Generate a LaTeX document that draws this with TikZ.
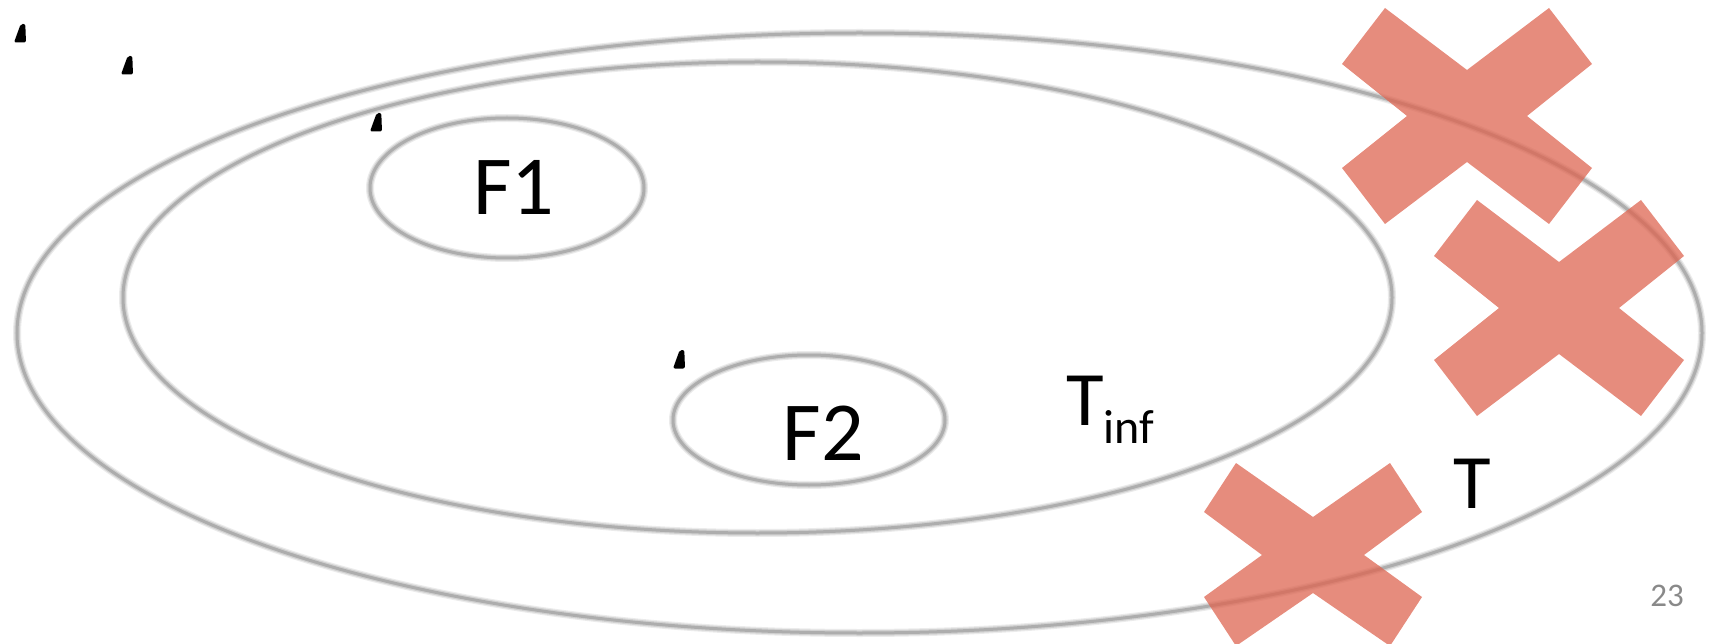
\documentclass[tikz,border=0pt]{standalone}
\usepackage{fontspec}
\setmainfont{Carlito}
\definecolor{crossred}{RGB}{222,102,82}
\definecolor{pagegray}{RGB}{137,137,137}
\tikzset{
  x=1pt, y=-1pt,
  ringhaloA/.style={draw=black!8, line width=8pt},
  ringhaloB/.style={draw=black!18, line width=5.5pt},
  ringcore/.style={draw=black!32, line width=3pt},
  crossfill/.style={fill=crossred, fill opacity=0.75},
  tickmark/.style={fill=black, rounded corners=2pt},
  lbl/.style={inner sep=0pt, outer sep=0pt, text=black},
  xmark/.pic={
    \fill[crossfill] (0,-46) -- (82,-108) -- (125,-52) -- (60,0) -- (125,52) -- (82,108)
      -- (0,46) -- (-82,108) -- (-125,52) -- (-60,0) -- (-125,-52) -- (-82,-108) -- cycle;
  },
  xmarksmall/.pic={
    \fill[crossfill] (0,-38) -- (77,-92) -- (109,-43) -- (51,0) -- (109,42) -- (77,91)
      -- (0,38) -- (-77,91) -- (-109,42) -- (-51,0) -- (-109,-43) -- (-77,-92) -- cycle;
  },
  tick/.pic={
    \fill[tickmark] (-6,9.5) -- (6,9.5) -- (5.3,-9) -- (0.7,-9) -- cycle;
  }
}
\begin{document}
\begin{tikzpicture}
\useasboundingbox (0,0) rectangle (1719,644);
% rings (soft grey)
\foreach \st in {ringhaloA,ringhaloB,ringcore}{
  \draw[\st] (859.5,333) ellipse [x radius=842.5, y radius=300];
  \draw[\st] (757.5,297.5) ellipse [x radius=634.5, y radius=235.5];
  \draw[\st] (507,188) ellipse [x radius=137, y radius=70];
  \draw[\st] (809,420) ellipse [x radius=136, y radius=65];
}
% crosses
\pic (x1) at (1467,116) {xmark};
\pic (x2) at (1559,308) {xmark};
\pic (x3) at (1313,555) {xmarksmall};
% small black marks
\pic (m1) at (20,33) {tick};
\pic (m2) at (127,65) {tick};
\pic (m3) at (376,122) {tick};
\pic (m4) at (679,359) {tick};
% labels
\node[lbl, anchor=base] (f1) at (514,215) {\fontsize{84}{100}\selectfont F1};
\node[lbl, anchor=base] (f2) at (823.5,460) {\fontsize{84}{100}\selectfont F2};
\node[lbl, anchor=base west] (tinf) at (1066,425) {\fontsize{77}{90}\selectfont T\raisebox{-18pt}{\fontsize{48}{56}\selectfont inf}};
\node[lbl, anchor=base] (t) at (1472,508.5) {\fontsize{77}{90}\selectfont T};
\node[lbl, anchor=base, text=pagegray] (pg) at (1667,606.5) {\fontsize{33}{40}\selectfont 23};
\end{tikzpicture}
\end{document}
